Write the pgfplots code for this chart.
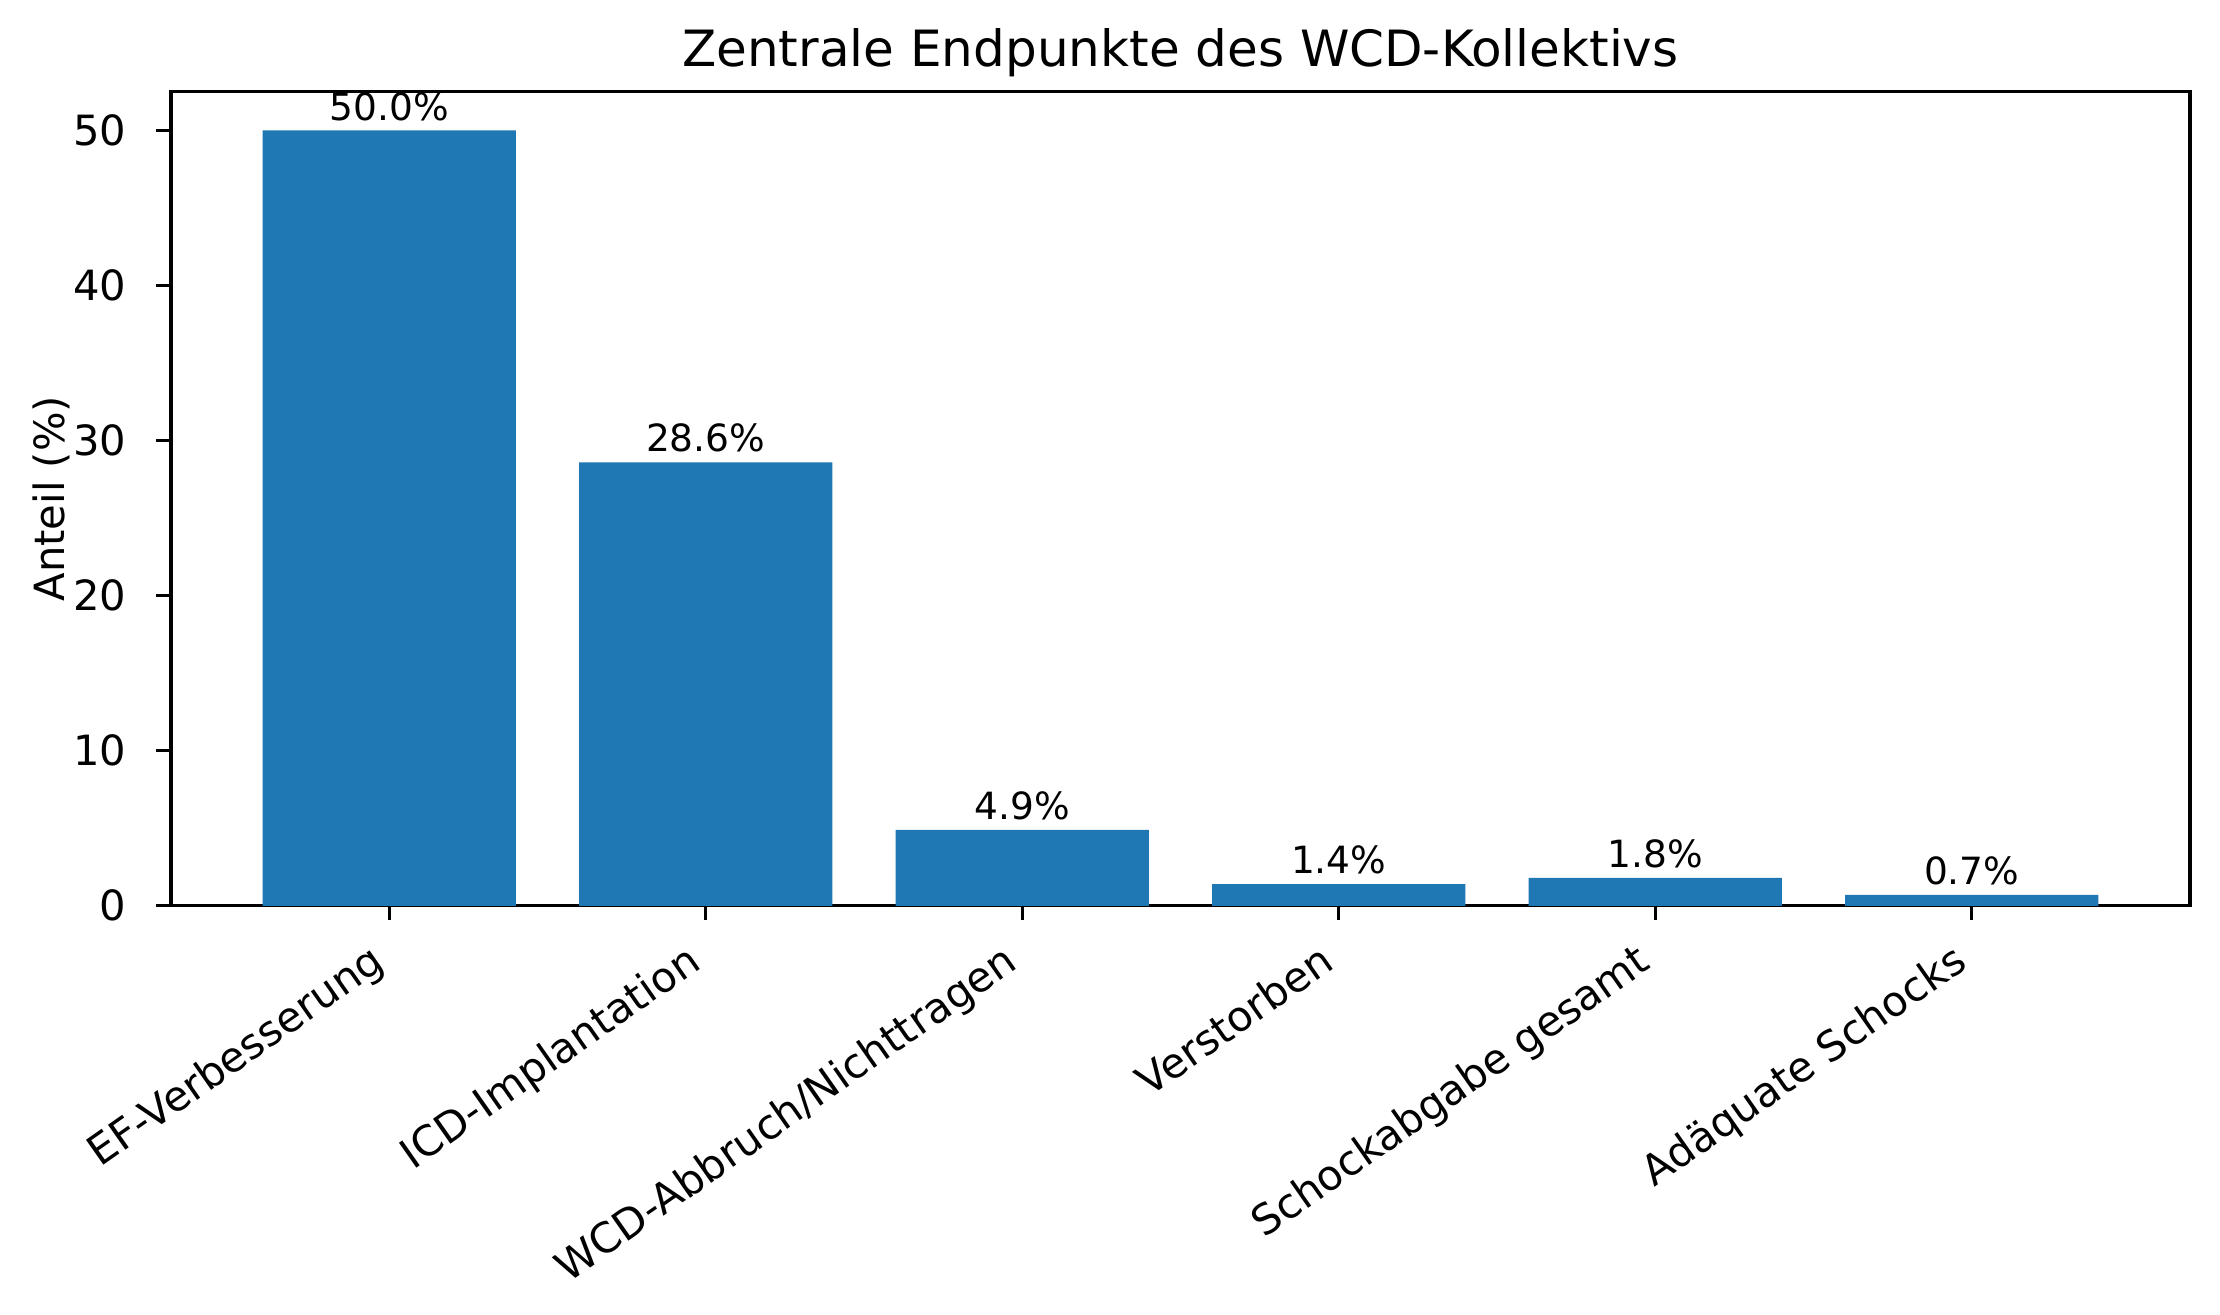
\documentclass[border=0pt]{standalone}
\usepackage{fontspec}
\setmainfont{DejaVu Sans}
\usepackage{pgfplots}
\pgfplotsset{compat=1.18}
\definecolor{mplblue}{HTML}{1F77B4}
\begin{document}
\begin{tikzpicture}
\useasboundingbox (0,0) rectangle (532.8pt,315.6pt);
\begin{axis}[
  at={(41.0pt,98.2pt)}, anchor=south west,
  width=484.6pt, height=195.4pt, scale only axis,
  xmin=-0.69, xmax=5.69, ymin=0, ymax=52.5,
  xtick={0,1,2,3,4,5},
  xticklabels={EF-Verbesserung, ICD-Implantation, WCD-Abbruch/Nichttragen, Verstorben, Schockabgabe gesamt, Adäquate Schocks},
  ytick={0,10,20,30,40,50},
  tick align=outside, major tick length=3.5pt,
  tick style={line width=0.8pt, black},
  xtick pos=bottom, ytick pos=left,
  axis line style={line width=0.8pt},
  /pgf/number format/assume math mode=true,
  ticklabel style={font=\fontsize{10}{12}\selectfont},
  xticklabel style={xshift=-5pt, yshift=-4.8pt, rotate=35, anchor=north east, inner sep=0pt, text height=7.6pt, text depth=2.4pt},
  yticklabel style={xshift=-7pt, anchor=east, inner sep=0pt},
  title={Zentrale Endpunkte des WCD-Kollektivs},
  title style={at={(0.5,1)}, anchor=base, inner sep=0pt, font=\fontsize{12}{14.4}\selectfont},
  ylabel={Anteil (\%)},
  ylabel style={at={(axis description cs:-0.0495,0.5)}, anchor=south, rotate=0, inner sep=0pt, font=\fontsize{10}{12}\selectfont},
  ybar, bar width=0.8, bar shift=0pt,
  nodes near coords={\pgfmathprintnumber[fixed, precision=1, fixed zerofill]{\pgfplotspointmeta}\%},
  nodes near coords style={anchor=base, inner sep=0pt, yshift=2.5pt, font=\fontsize{9}{10.8}\selectfont, /pgf/number format/assume math mode=true},
  clip=false,
]
\addplot[fill=mplblue, draw=none] coordinates {(0,50.0) (1,28.6) (2,4.9) (3,1.4) (4,1.8) (5,0.7)};
\end{axis}
\end{tikzpicture}
\end{document}
